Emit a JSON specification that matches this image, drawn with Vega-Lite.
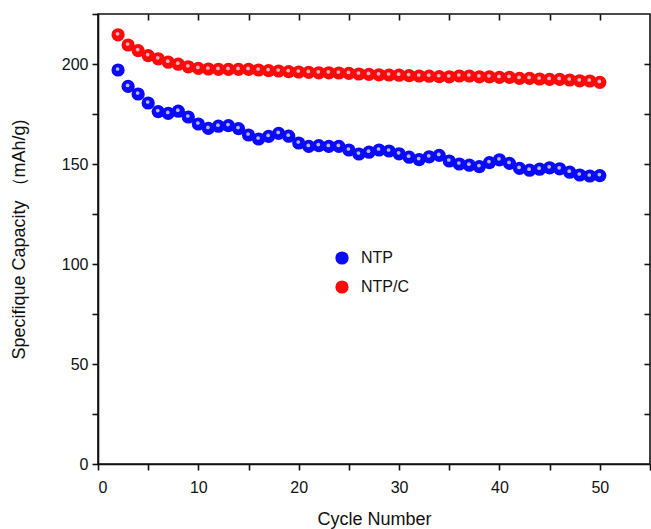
{
  "$schema": "https://vega.github.io/schema/vega-lite/v6.json",
  "width": 552,
  "height": 450,
  "autosize": {"type": "none"},
  "padding": {"left": 98, "top": 14, "right": 1, "bottom": 65},
  "background": "white",
  "config": {
    "view": {"stroke": "#111", "strokeWidth": 1.6},
    "font": "Liberation Sans",
    "axis": {
      "grid": false,
      "domainColor": "#111",
      "domainWidth": 1.6,
      "tickColor": "#111",
      "tickWidth": 1.6,
      "labelFont": "Liberation Sans",
      "titleFont": "Liberation Sans",
      "labelFontSize": 16,
      "titleFontSize": 18,
      "labelColor": "#111",
      "titleColor": "#111",
      "titleFontWeight": "normal"
    }
  },
  "data": {
    "values": [
      {"cycle": 2, "series": "NTP", "capacity": 197.0},
      {"cycle": 3, "series": "NTP", "capacity": 188.8},
      {"cycle": 4, "series": "NTP", "capacity": 185.0},
      {"cycle": 5, "series": "NTP", "capacity": 180.5},
      {"cycle": 6, "series": "NTP", "capacity": 176.2},
      {"cycle": 7, "series": "NTP", "capacity": 175.3},
      {"cycle": 8, "series": "NTP", "capacity": 176.4},
      {"cycle": 9, "series": "NTP", "capacity": 173.5},
      {"cycle": 10, "series": "NTP", "capacity": 170.0},
      {"cycle": 11, "series": "NTP", "capacity": 167.8},
      {"cycle": 12, "series": "NTP", "capacity": 168.9},
      {"cycle": 13, "series": "NTP", "capacity": 169.2},
      {"cycle": 14, "series": "NTP", "capacity": 167.7},
      {"cycle": 15, "series": "NTP", "capacity": 164.5},
      {"cycle": 16, "series": "NTP", "capacity": 162.5},
      {"cycle": 17, "series": "NTP", "capacity": 163.8},
      {"cycle": 18, "series": "NTP", "capacity": 165.3},
      {"cycle": 19, "series": "NTP", "capacity": 163.9},
      {"cycle": 20, "series": "NTP", "capacity": 160.5},
      {"cycle": 21, "series": "NTP", "capacity": 158.8},
      {"cycle": 22, "series": "NTP", "capacity": 159.2},
      {"cycle": 23, "series": "NTP", "capacity": 158.8},
      {"cycle": 24, "series": "NTP", "capacity": 158.8},
      {"cycle": 25, "series": "NTP", "capacity": 157.0},
      {"cycle": 26, "series": "NTP", "capacity": 155.0},
      {"cycle": 27, "series": "NTP", "capacity": 155.9},
      {"cycle": 28, "series": "NTP", "capacity": 157.0},
      {"cycle": 29, "series": "NTP", "capacity": 156.5},
      {"cycle": 30, "series": "NTP", "capacity": 155.1},
      {"cycle": 31, "series": "NTP", "capacity": 153.4},
      {"cycle": 32, "series": "NTP", "capacity": 152.2},
      {"cycle": 33, "series": "NTP", "capacity": 153.6},
      {"cycle": 34, "series": "NTP", "capacity": 154.3},
      {"cycle": 35, "series": "NTP", "capacity": 151.5},
      {"cycle": 36, "series": "NTP", "capacity": 150.0},
      {"cycle": 37, "series": "NTP", "capacity": 149.4},
      {"cycle": 38, "series": "NTP", "capacity": 148.7},
      {"cycle": 39, "series": "NTP", "capacity": 150.7},
      {"cycle": 40, "series": "NTP", "capacity": 152.1},
      {"cycle": 41, "series": "NTP", "capacity": 150.3},
      {"cycle": 42, "series": "NTP", "capacity": 147.8},
      {"cycle": 43, "series": "NTP", "capacity": 146.9},
      {"cycle": 44, "series": "NTP", "capacity": 147.4},
      {"cycle": 45, "series": "NTP", "capacity": 148.1},
      {"cycle": 46, "series": "NTP", "capacity": 147.6},
      {"cycle": 47, "series": "NTP", "capacity": 145.9},
      {"cycle": 48, "series": "NTP", "capacity": 144.5},
      {"cycle": 49, "series": "NTP", "capacity": 144.0},
      {"cycle": 50, "series": "NTP", "capacity": 144.2},
      {"cycle": 2, "series": "NTP/C", "capacity": 214.6},
      {"cycle": 3, "series": "NTP/C", "capacity": 209.5},
      {"cycle": 4, "series": "NTP/C", "capacity": 206.7},
      {"cycle": 5, "series": "NTP/C", "capacity": 204.2},
      {"cycle": 6, "series": "NTP/C", "capacity": 202.6},
      {"cycle": 7, "series": "NTP/C", "capacity": 200.9},
      {"cycle": 8, "series": "NTP/C", "capacity": 199.9},
      {"cycle": 9, "series": "NTP/C", "capacity": 198.6},
      {"cycle": 10, "series": "NTP/C", "capacity": 197.8},
      {"cycle": 11, "series": "NTP/C", "capacity": 197.5},
      {"cycle": 12, "series": "NTP/C", "capacity": 197.3},
      {"cycle": 13, "series": "NTP/C", "capacity": 197.3},
      {"cycle": 14, "series": "NTP/C", "capacity": 197.3},
      {"cycle": 15, "series": "NTP/C", "capacity": 197.3},
      {"cycle": 16, "series": "NTP/C", "capacity": 197.0},
      {"cycle": 17, "series": "NTP/C", "capacity": 196.7},
      {"cycle": 18, "series": "NTP/C", "capacity": 196.5},
      {"cycle": 19, "series": "NTP/C", "capacity": 196.2},
      {"cycle": 20, "series": "NTP/C", "capacity": 196.0},
      {"cycle": 21, "series": "NTP/C", "capacity": 195.8},
      {"cycle": 22, "series": "NTP/C", "capacity": 195.6},
      {"cycle": 23, "series": "NTP/C", "capacity": 195.6},
      {"cycle": 24, "series": "NTP/C", "capacity": 195.5},
      {"cycle": 25, "series": "NTP/C", "capacity": 195.3},
      {"cycle": 26, "series": "NTP/C", "capacity": 195.0},
      {"cycle": 27, "series": "NTP/C", "capacity": 194.8},
      {"cycle": 28, "series": "NTP/C", "capacity": 194.6},
      {"cycle": 29, "series": "NTP/C", "capacity": 194.5},
      {"cycle": 30, "series": "NTP/C", "capacity": 194.4},
      {"cycle": 31, "series": "NTP/C", "capacity": 194.2},
      {"cycle": 32, "series": "NTP/C", "capacity": 194.0},
      {"cycle": 33, "series": "NTP/C", "capacity": 193.9},
      {"cycle": 34, "series": "NTP/C", "capacity": 193.7},
      {"cycle": 35, "series": "NTP/C", "capacity": 193.6},
      {"cycle": 36, "series": "NTP/C", "capacity": 194.0},
      {"cycle": 37, "series": "NTP/C", "capacity": 194.0},
      {"cycle": 38, "series": "NTP/C", "capacity": 193.6},
      {"cycle": 39, "series": "NTP/C", "capacity": 193.6},
      {"cycle": 40, "series": "NTP/C", "capacity": 193.3},
      {"cycle": 41, "series": "NTP/C", "capacity": 193.3},
      {"cycle": 42, "series": "NTP/C", "capacity": 192.8},
      {"cycle": 43, "series": "NTP/C", "capacity": 192.8},
      {"cycle": 44, "series": "NTP/C", "capacity": 192.5},
      {"cycle": 45, "series": "NTP/C", "capacity": 192.3},
      {"cycle": 46, "series": "NTP/C", "capacity": 192.3},
      {"cycle": 47, "series": "NTP/C", "capacity": 192.0},
      {"cycle": 48, "series": "NTP/C", "capacity": 191.6},
      {"cycle": 49, "series": "NTP/C", "capacity": 191.5},
      {"cycle": 50, "series": "NTP/C", "capacity": 190.8}
    ]
  },
  "layer": [
    {
      "mark": {"type": "point", "filled": true, "opacity": 1, "size": 175, "shape": "circle"},
      "encoding": {
        "x": {
          "field": "cycle", "type": "quantitative",
          "scale": {"domain": [0, 55], "nice": false, "zero": false},
          "axis": {
            "orient": "bottom",
            "title": "Cycle Number",
            "values": [0, 5, 10, 15, 20, 25, 30, 35, 40, 45, 50, 55],
            "labelExpr": "datum.value % 10 === 0 && datum.value < 55 ? datum.label : ''",
            "tickSize": 6,
            "labelPadding": 9,
            "titlePadding": 15
          }
        },
        "y": {
          "field": "capacity", "type": "quantitative",
          "scale": {"domain": [0, 225], "nice": false, "zero": true},
          "axis": {
            "orient": "left",
            "title": "Specifique Capacity （mAh/g)",
            "values": [0, 25, 50, 75, 100, 125, 150, 175, 200, 225],
            "labelExpr": "datum.value % 50 === 0 ? datum.label : ''",
            "tickSize": 6,
            "labelPadding": 4,
            "titlePadding": 33
          }
        },
        "color": {
          "field": "series", "type": "nominal",
          "scale": {"domain": ["NTP", "NTP/C"], "range": ["#0a0aff", "#ff0a0a"]},
          "legend": {
            "title": null,
            "orient": "none",
            "legendX": 236,
            "legendY": 236,
            "symbolSize": 175,
            "symbolType": "circle",
            "labelFontSize": 16,
            "labelFont": "Liberation Sans",
            "labelColor": "#111",
            "labelOffset": 11,
            "rowPadding": 13,
            "padding": 0
          }
        }
      }
    },
    {
      "mark": {"type": "point", "filled": true, "opacity": 0.8, "size": 14, "shape": "circle", "color": "#e8e4f2", "xOffset": -0.5, "yOffset": -1},
      "encoding": {
        "x": {
          "field": "cycle", "type": "quantitative",
          "scale": {"domain": [0, 55], "nice": false, "zero": false},
          "axis": {
            "orient": "top",
            "title": null,
            "labels": false,
            "domain": false,
            "values": [5, 10, 15, 20, 25, 30, 35, 40, 45, 50],
            "tickSize": -6
          }
        },
        "y": {
          "field": "capacity", "type": "quantitative",
          "scale": {"domain": [0, 225], "nice": false, "zero": true},
          "axis": {
            "orient": "right",
            "title": null,
            "labels": false,
            "domain": false,
            "values": [25, 50, 75, 100, 125, 150, 175, 200],
            "tickSize": -6
          }
        }
      }
    }
  ],
  "resolve": {
    "scale": {"x": "independent", "y": "independent"},
    "axis": {"x": "independent", "y": "independent"}
  }
}
